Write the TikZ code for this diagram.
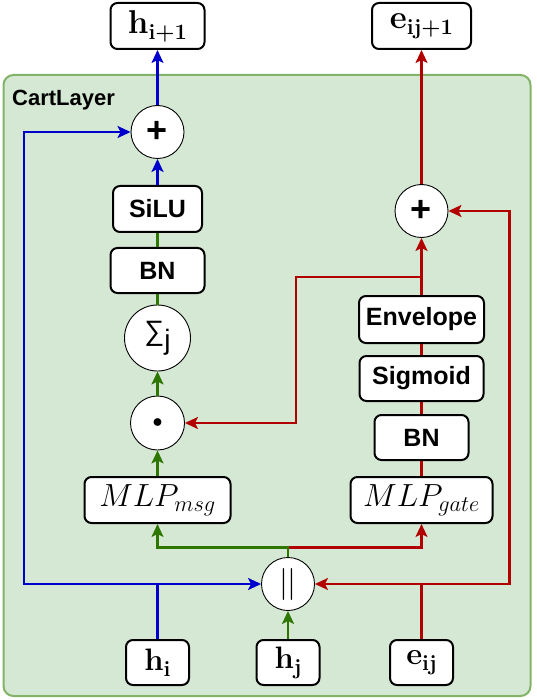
\RequirePackage{fix-cm}
\documentclass[tikz,border=0pt]{standalone}
\usepackage{fontspec}
\setsansfont{Liberation Sans}
\usetikzlibrary{arrows.meta}
\definecolor{cblue}{HTML}{0000CC}
\definecolor{cgreen}{HTML}{2D7600}
\definecolor{cred}{HTML}{B20000}
\definecolor{cfill}{HTML}{D5E8D4}
\definecolor{cstroke}{HTML}{82B366}
\newcommand{\bsub}[2]{\textbf{#1}\raisebox{-6pt}{\fontsize{22}{22}\selectfont\textbf{#2}}}
\begin{document}
\begin{tikzpicture}[x=1pt,y=-1pt,
  box/.style={draw=black, line width=2pt, fill=white, rounded corners=7pt,
    minimum height=46pt, inner sep=0pt,
    font=\sffamily\bfseries\fontsize{25}{30}\selectfont},
  mbox/.style={box, font=\rmfamily\fontsize{31}{34}\selectfont},
  obox/.style={box, font=\rmfamily\fontsize{33}{36}\selectfont},
  gbox/.style={box, font=\fontsize{32}{36}\selectfont},
  op/.style={draw=black, line width=0.9pt, fill=white, circle, inner sep=0pt,
    minimum size=53pt},
  con/.style={line width=2.2pt},
  arr/.style={con, -{Stealth[length=13pt,width=12pt,inset=3pt]}},
]
\useasboundingbox (0,0) rectangle (536,700);
% container
\node[draw=cstroke, fill=cfill, line width=2pt, rounded corners=10pt,
  minimum width=527pt, minimum height=621pt, inner sep=0pt] (layer) at (267,385.5) {};
\node[anchor=base west, inner sep=0pt,
  font=\sffamily\bfseries\fontsize{22}{26}\selectfont] (lbl) at (12,106) {CartLayer};

% outputs
\node[obox, minimum width=94pt] (hout) at (157.5,26) {\bsub{h}{i+1}};
\node[obox, minimum width=99pt] (eout) at (421.5,26) {\bsub{e}{ij+1}};

% left column
\node[op, font=\sffamily\bfseries\fontsize{36}{36}\selectfont] (plusA) at (157.5,132) {+};
\node[box, minimum width=89pt] (silu) at (157.5,209) {SiLU};
\node[box, minimum width=94pt, minimum height=45pt] (bnA) at (157.5,270.5) {BN};
\node[op, minimum size=66pt, font=\sffamily\fontsize{28}{28}\selectfont] (sum) at (157.5,338) {∑\raisebox{-9pt}{j}};
\node[op, minimum size=54pt, font=\fontsize{20}{20}\selectfont] (dot) at (157.5,423) {$\bullet$};
\node[gbox, minimum width=146pt] (msg) at (157.5,500) {$MLP_{msg}$};

% right column
\node[op, font=\sffamily\bfseries\fontsize{36}{36}\selectfont] (plusB) at (421.5,211) {+};
\node[box, minimum width=125pt, minimum height=47pt] (env) at (421.5,319.5) {Envelope};
\node[box, minimum width=124pt, minimum height=45pt] (sig) at (421.5,378.5) {Sigmoid};
\node[box, minimum width=94pt, minimum height=45pt] (bnB) at (421.5,437.5) {BN};
\node[gbox, minimum width=142pt] (gate) at (421.5,500) {$MLP_{gate}$};

% concat and inputs
\node[op, font=\fontsize{32}{32}\selectfont] (cat) at (288,584) {$||$};
\node[mbox, minimum width=63pt, minimum height=45pt] (hi) at (157.5,662.5) {\bsub{h}{i}};
\node[mbox, minimum width=63pt, minimum height=45pt] (hj) at (288,662.5) {\bsub{h}{j}};
\node[mbox, minimum width=63pt, minimum height=45pt] (eij) at (421.5,662.5) {\bsub{e}{ij}};

\coordinate (xl) at (24,0);
\coordinate (xr) at (509.5,0);
\coordinate (xm) at (295.7,0);
\coordinate (sp) at (288,547.5);
\coordinate (ej) at (421.5,276.7);

% input edges
\draw[arr,cblue] (hi.north) |- (cat.west);
\draw[arr,cblue] (hi.north) |- (xl |- cat.west) -- (xl |- plusA.west) -- (plusA.west);
\draw[arr,cgreen] (hj) -- (cat);
\draw[arr,cred] (eij.north) |- (cat.east);
\draw[arr,cred] (eij.north) |- (xr |- cat.east) -- (xr |- plusB.east) -- (plusB.east);

% split after concat
\draw[arr,cred] (sp) -| (gate.south);
\draw[arr,cgreen] (cat.north) -- (sp) -| (msg.south);

% left column edges
\draw[arr,cgreen] (msg) -- (dot);
\draw[arr,cgreen] (dot) -- (sum);
\draw[con,cgreen] (sum) -- (bnA);
\draw[con,cgreen] (bnA) -- (silu);
\draw[arr,cblue] (silu) -- (plusA);
\draw[arr,cblue] (plusA) -- (hout);

% right column edges
\draw[con,cred] (gate) -- (bnB);
\draw[con,cred] (bnB) -- (sig);
\draw[con,cred] (sig) -- (env);
\draw[arr,cred] (env) -- (plusB);
\draw[arr,cred] (plusB) -- (eout);
\draw[arr,cred] (ej) -| (xm |- dot.east) -- (dot.east);
\end{tikzpicture}
\end{document}
